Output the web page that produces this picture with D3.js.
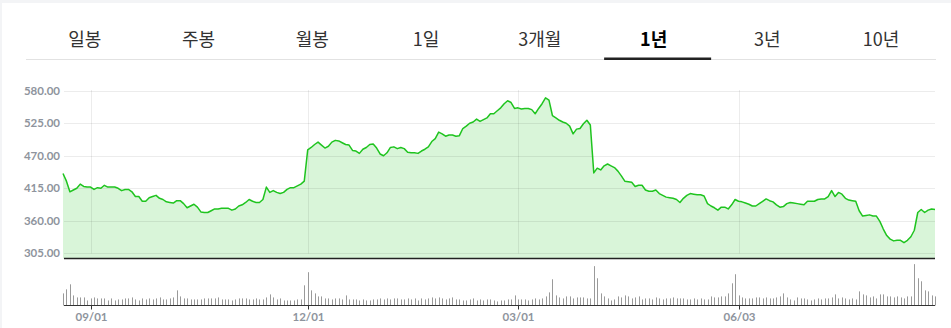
<!DOCTYPE html>
<html>
<head>
<meta charset="utf-8">
<script src="https://cdn.jsdelivr.net/npm/d3@7"></script>
<style>
  body { margin: 0; background: #f3f4f6; overflow: hidden; }
  svg { display: block; }
</style>
</head>
<body>
<div id="chart"></div>
<script>
const tabs = ["일봉", "주봉", "월봉", "1일", "3개월", "1년", "3년", "10년"];
const activeTab = "1년";

// daily close, one value per trading day
const prices = [
  440, 427, 409, 412, 415, 422, 418, 417, 417, 413,
  416, 415, 420, 417, 417, 417, 415, 411, 413, 413,
  409, 401, 401, 393, 393, 399, 401, 403, 398, 396,
  392, 391, 390, 394, 394, 389, 382, 385, 388, 383,
  375, 374, 374, 377, 380, 380, 381, 381, 381, 378,
  380, 385, 387, 391, 396, 393, 391, 391, 396, 417,
  408, 411, 408, 406, 408, 413, 416, 416, 419, 422,
  427, 480, 484, 489, 493, 488, 483, 486, 493, 496,
  495, 492, 489, 488, 479, 478, 474, 481, 484, 489,
  490, 483, 473, 470, 475, 484, 485, 482, 484, 482,
  476, 475, 475, 474, 478, 481, 485, 494, 499, 510,
  507, 503, 505, 505, 503, 504, 516, 520, 525, 527,
  532, 528, 531, 534, 541, 541, 546, 551, 558, 563,
  560, 550, 551, 549, 550, 550, 548, 541, 550, 558,
  568, 564, 538, 534, 530, 527, 525, 520, 507, 515,
  516, 524, 530, 522, 441, 449, 446, 453, 456, 453,
  450, 444, 436, 427, 426, 425, 418, 420, 420, 412,
  410, 410, 412, 406, 403, 400, 399, 398, 396, 391,
  398, 403, 406, 405, 404, 404, 402, 389, 385, 382,
  378, 383, 383, 380, 387, 396, 393, 392, 390, 388,
  385, 385, 389, 393, 397, 394, 392, 387, 383, 384,
  389, 391, 390, 389, 388, 387, 393, 393, 393, 396,
  397, 397, 401, 411, 401, 408, 405, 398, 395, 394,
  393, 377, 368, 369, 370, 368, 368, 359, 346, 335,
  329, 326, 327, 327, 323, 327, 333, 344, 374, 379,
  374, 378, 380, 379
];

// traded volume per day (millions)
const volumes = [
  12, 16, 21, 10, 8, 8, 8, 5, 7, 8,
  7, 7, 7, 5, 7, 5, 6, 6, 7, 7,
  8, 6, 5, 7, 6, 7, 6, 7, 8, 6,
  6, 7, 8, 15, 9, 7, 7, 6, 6, 6,
  6, 7, 7, 7, 7, 8, 6, 6, 6, 5,
  6, 7, 7, 7, 6, 6, 7, 6, 6, 8,
  11, 8, 6, 7, 5, 5, 5, 5, 6, 6,
  20, 33, 15, 12, 9, 9, 7, 7, 6, 7,
  7, 6, 10, 6, 6, 6, 5, 6, 5, 5,
  6, 6, 7, 6, 7, 6, 7, 7, 6, 6,
  7, 6, 7, 5, 7, 6, 7, 8, 7, 8,
  7, 6, 7, 8, 6, 6, 5, 5, 6, 7,
  5, 6, 5, 6, 6, 5, 4, 5, 5, 6,
  6, 10, 6, 6, 6, 5, 6, 7, 6, 7,
  9, 13, 26, 10, 8, 7, 9, 9, 7, 8,
  8, 8, 7, 7, 39, 27, 12, 9, 7, 5,
  6, 9, 8, 10, 9, 7, 8, 9, 6, 7,
  7, 6, 8, 7, 6, 7, 7, 8, 7, 7,
  7, 6, 6, 7, 6, 7, 6, 6, 9, 8,
  8, 9, 9, 12, 22, 31, 10, 8, 7, 7,
  7, 8, 8, 7, 8, 7, 7, 8, 9, 12,
  8, 6, 5, 8, 7, 7, 6, 5, 6, 7,
  6, 7, 7, 8, 11, 7, 8, 7, 6, 7,
  6, 14, 11, 10, 8, 9, 7, 11, 11, 9,
  9, 8, 9, 8, 7, 9, 9, 41, 27, 24,
  15, 14, 10, 9
];

const priceTicks = [305, 360, 415, 470, 525, 580];
const dateTickIndex = [8, 71, 132, 196];
const dateTickLabels = ["09/01", "12/01", "03/01", "06/03"];

const W = 951, H = 328;
const left = 64, right = 935;
const plotTop = 90.7, priceBottom = 258.5, volBottom = 305.5;

const svg = d3.select("#chart")
              .append("svg")
              .attr("width", W)
              .attr("height", H);

svg.append("rect")
   .attr("x", 2).attr("y", 3)
   .attr("width", W - 2).attr("height", H - 3)
   .attr("fill", "#fff");

// tab bar
const tabX = d3.scaleBand().domain(tabs).range([28, 938]);

svg.append("line")
   .attr("x1", 26).attr("x2", 936)
   .attr("y1", 59.5).attr("y2", 59.5)
   .attr("stroke", "#e2e2e2");

svg.append("g")
   .selectAll("text")
   .data(tabs)
   .enter()
   .append("text")
   .attr("x", d => tabX(d) + tabX.bandwidth() / 2)
   .attr("y", 46)
   .attr("text-anchor", "middle")
   .attr("font-family", "'Noto Sans CJK KR', 'Noto Sans', sans-serif")
   .attr("font-size", 18)
   .attr("font-weight", d => d === activeTab ? 700 : 400)
   .attr("fill", d => d === activeTab ? "#000" : "#333")
   .text(d => d);

// underline sits a little right of the band centre in the original
svg.append("rect")
   .attr("x", tabX(activeTab) + tabX.bandwidth() / 2 - 49.5)
   .attr("y", 57.5)
   .attr("width", 107)
   .attr("height", 2.5)
   .attr("fill", "#222");

// scales
const x = d3.scaleLinear().domain([0, prices.length - 1]).range([63, 935]);
const y = d3.scaleLinear().domain([305, 580]).range([253.3, plotTop]);
const yv = d3.scaleLinear().domain([0, d3.max(volumes) * 1.1]).range([volBottom, 260]);

// area + line
svg.append("path")
   .datum(prices)
   .attr("fill", "#d9f5d9")
   .attr("d", d3.area()
                .x((d, i) => x(i))
                .y0(priceBottom)
                .y1(d => y(d)));

// grid
svg.append("g")
   .selectAll("line.hgrid")
   .data(priceTicks)
   .enter()
   .append("line")
   .attr("class", "hgrid")
   .attr("x1", left).attr("x2", right)
   .attr("y1", d => Math.round(y(d)) + 0.5)
   .attr("y2", d => Math.round(y(d)) + 0.5)
   .attr("stroke", "#000")
   .attr("stroke-opacity", 0.075);

svg.append("g")
   .selectAll("line.vgrid")
   .data(dateTickIndex)
   .enter()
   .append("line")
   .attr("class", "vgrid")
   .attr("x1", d => Math.round(x(d)) + 0.5)
   .attr("x2", d => Math.round(x(d)) + 0.5)
   .attr("y1", 90)
   .attr("y2", 253.5)
   .attr("stroke", "#000")
   .attr("stroke-opacity", 0.075);

svg.append("path")
   .datum(prices)
   .attr("fill", "none")
   .attr("stroke", "#1fc41f")
   .attr("stroke-width", 1.5)
   .attr("stroke-linejoin", "round")
   .attr("d", d3.line()
                .x((d, i) => x(i))
                .y(d => y(d)));

svg.append("line")
   .attr("x1", left).attr("x2", right)
   .attr("y1", priceBottom).attr("y2", priceBottom)
   .attr("stroke", "#222")
   .attr("stroke-width", 1.5);

// price labels
svg.append("g")
   .selectAll("text")
   .data(priceTicks)
   .enter()
   .append("text")
   .attr("x", 60)
   .attr("y", d => y(d))
   .attr("dy", "0.35em")
   .attr("text-anchor", "end")
   .attr("font-family", "Lato, 'Noto Sans', sans-serif")
   .attr("font-size", 11.5)
   .attr("font-weight", 700)
   .attr("fill", "#8e949d")
   .text(d => d3.format(".2f")(d));

// volume bars
svg.append("g")
   .selectAll("line.vol")
   .data(volumes)
   .enter()
   .append("line")
   .attr("class", "vol")
   .attr("x1", (d, i) => Math.round(x(i)) + 0.5)
   .attr("x2", (d, i) => Math.round(x(i)) + 0.5)
   .attr("y1", volBottom)
   .attr("y2", d => yv(d))
   .attr("stroke", "#9a9a9a");

svg.append("line")
   .attr("x1", left).attr("x2", right)
   .attr("y1", volBottom).attr("y2", volBottom)
   .attr("stroke", "#333");

const ticks = svg.append("g")
                 .selectAll("g")
                 .data(dateTickIndex)
                 .enter()
                 .append("g")
                 .attr("transform", d => `translate(${Math.round(x(d)) + 0.5},0)`);

ticks.append("line")
     .attr("y1", volBottom).attr("y2", volBottom + 4)
     .attr("stroke", "#333");

ticks.append("text")
     .attr("y", 321)
     .attr("text-anchor", "middle")
     .attr("font-family", "Lato, 'Noto Sans', sans-serif")
     .attr("font-size", 11.5)
     .attr("font-weight", 700)
     .attr("fill", "#8e949d")
     .text((d, i) => dateTickLabels[i]);
</script>
</body>
</html>
